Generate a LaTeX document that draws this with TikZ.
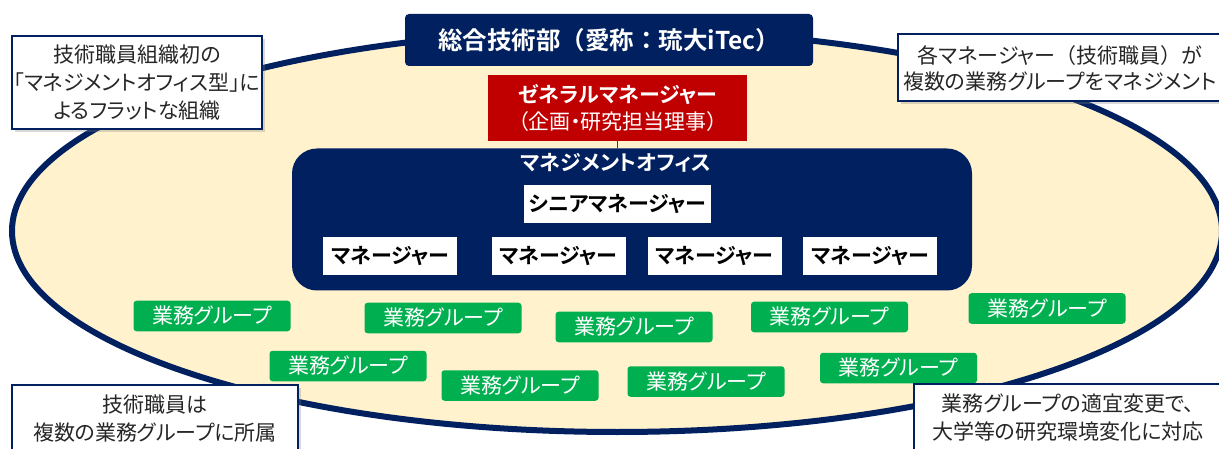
\documentclass[tikz,border=0pt]{standalone}
\usepackage{fontspec}
\newfontfamily\jp{Noto Sans CJK JP}[BoldFont={Noto Sans CJK JP Bold}]
\newfontfamily\jpp{Noto Sans CJK JP}[BoldFont={Noto Sans CJK JP Bold},RawFeature=+palt]
\usetikzlibrary{shadows}
\definecolor{navy}{HTML}{002060}
\definecolor{gmred}{HTML}{C00000}
\definecolor{grpgreen}{HTML}{00B050}
\definecolor{cream}{HTML}{FFF2CC}
\definecolor{ctextc}{HTML}{262626}
\tikzset{
  box/.style={inner sep=0pt, outer sep=0pt, align=center},
  titlebox/.style={box, fill=navy, rounded corners=4pt, minimum width=408pt, minimum height=52pt,
    text=white, font=\jp\bfseries\fontsize{24.5}{28}\selectfont},
  gmbox/.style={box, fill=gmred, minimum width=259pt, minimum height=66pt, text=white,
    font=\jpp\fontsize{21}{27}\selectfont},
  officebox/.style={box, fill=navy, rounded corners=25pt, minimum width=680pt, minimum height=142pt},
  officetitle/.style={box, text=white, font=\jpp\bfseries\fontsize{21}{24}\selectfont},
  wbox/.style={box, fill=white, text=black, font=\jpp\bfseries\fontsize{21}{24}\selectfont},
  grp/.style={box, fill=grpgreen, rounded corners=3pt, minimum width=157pt, minimum height=30.5pt,
    text=white, font=\jpp\fontsize{21}{24}\selectfont},
  callout/.style={box, fill=white, draw=navy, line width=1.5pt,
    drop shadow={shadow xshift=2.5pt, shadow yshift=-3pt, opacity=0.3}},
  ctext/.style={box, text=ctextc, font=\jpp\fontsize{21}{28}\selectfont},
}
\begin{document}
\begin{tikzpicture}[x=1pt,y=-1pt]
\useasboundingbox (0,0) rectangle (1219,449);
% outer organisation ellipse
\draw[navy, line width=6pt, fill=cream] (617,231) ellipse [x radius=605, y radius=201];

% title
\node[titlebox] (title) at (609,40) {総合技術部（愛称：琉大iTec）};

% general manager
\node[gmbox] (gm) at (617.5,108) {{\bfseries ゼネラルマネージャー}\\（企画・研究担当理事）};

% management office
\node[officebox] (office) at (632,219.5) {};
\draw[navy!70!gray, line width=0.8pt] (gm.south) -- (gm.south |- office.north);
\node[officetitle] (otitle) at (616,163) {マネジメントオフィス};
\node[wbox, minimum width=187pt, minimum height=38pt] (senior) at (617.5,204) {シニアマネージャー};
\node[wbox, minimum width=134pt, minimum height=38pt] (m1) at (390,256) {マネージャー};
\node[wbox, minimum width=134pt, minimum height=38pt] (m2) at (558.5,256) {マネージャー};
\node[wbox, minimum width=134pt, minimum height=38pt] (m3) at (714.5,256) {マネージャー};
\node[wbox, minimum width=134pt, minimum height=38pt] (m4) at (870,256) {マネージャー};

% work groups
\node[grp] (g1) at (212,316) {業務グループ};
\node[grp] (g2) at (443,318) {業務グループ};
\node[grp] (g3) at (634,327) {業務グループ};
\node[grp] (g4) at (829.5,317) {業務グループ};
\node[grp] (g5) at (1047,308.5) {業務グループ};
\node[grp] (g6) at (348,366) {業務グループ};
\node[grp] (g7) at (520,385.5) {業務グループ};
\node[grp] (g8) at (706,381.5) {業務グループ};
\node[grp] (g9) at (898.5,368) {業務グループ};

% callouts
\node[callout, minimum width=250pt, minimum height=93pt] (ctl) at (137,82.5) {};
\node[ctext] (ttl) at (ctl.center) {技術職員組織初の\\「マネジメントオフィス型」に\\よるフラットな組織};

\node[callout, minimum width=327pt, minimum height=67pt] (ctr) at (1061.5,67.5) {};
\node[ctext, font=\jpp\fontsize{21}{26}\selectfont] (ttr) at (1060,68) {各マネージャー{\jp （}技術職員{\jp ）}が\\複数の業務グループをマネジメント};

\node[callout, minimum width=286pt, minimum height=80pt] (cbl) at (155,425) {};
\node[ctext] (tbl) at (155,419) {技術職員は\\複数の業務グループに所属};

\node[callout, minimum width=311pt, minimum height=80pt] (cbr) at (1069.5,424) {};
\node[ctext] (tbr) at (1068,418) {業務グループの適宜変更で、\\大学等の研究環境変化に対応};
\end{tikzpicture}
\end{document}
